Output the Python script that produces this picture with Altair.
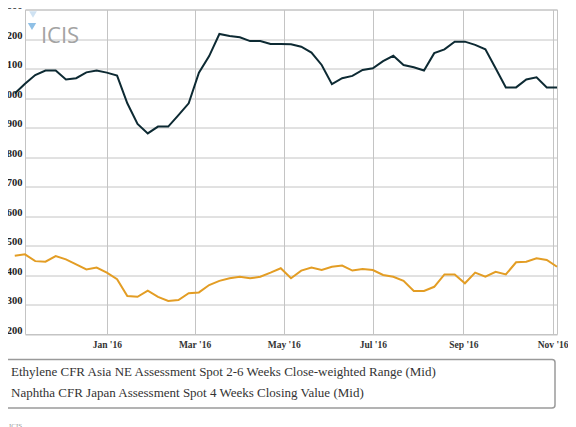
import altair as alt
import pandas as pd

# weekly assessment dates (Fridays)
dates = [(pd.Timestamp("2015-10-30") + pd.Timedelta(weeks=i)).strftime("%Y-%m-%d") for i in range(54)]

ethylene = [1015, 1048, 1078, 1093, 1093, 1063, 1067, 1087, 1093, 1086,
            1076, 982, 912, 880, 903, 903, 942, 982, 1086, 1142,
            1217, 1210, 1206, 1193, 1193, 1183, 1183, 1182, 1174, 1154,
            1112, 1047, 1067, 1075, 1095, 1101, 1125, 1143, 1112, 1104,
            1093, 1152, 1165, 1191, 1191, 1180, 1165, 1101, 1036, 1036,
            1063, 1070, 1036, 1036]

naphtha = [465, 470, 447, 445, 464, 453, 436, 419, 425, 408,
           386, 329, 326, 347, 326, 312, 315, 338, 341, 366,
           380, 389, 394, 389, 394, 408, 423, 389, 415, 425,
           417, 428, 432, 415, 420, 417, 400, 394, 380, 346,
           346, 360, 402, 402, 372, 408, 394, 411, 402, 443,
           445, 457, 451, 428]

series_names = [
    "Ethylene CFR Asia NE Assessment Spot 2-6 Weeks Close-weighted Range (Mid)",
    "Naphtha CFR Japan Assessment Spot 4 Weeks Closing Value (Mid)",
]
series_colors = ["#0d2a33", "#e39d24"]

y_ticks = list(range(200, 1301, 100))
x_tick_months = [(2016, 1), (2016, 3), (2016, 5), (2016, 7), (2016, 9), (2016, 11)]

rows = []
for d, e, n in zip(dates, ethylene, naphtha):
    rows.append({"date": d, "value": e, "series": series_names[0]})
    rows.append({"date": d, "value": n, "series": series_names[1]})
df = pd.DataFrame(rows)

x_enc = alt.X(
    "date:T",
    scale=alt.Scale(
        type="utc",
        domain=[alt.DateTime(year=2015, month=11, date=6, utc=True),
                alt.DateTime(year=2016, month=11, date=4, utc=True)],
    ),
    axis=alt.Axis(
        values=[alt.DateTime(year=y, month=m, date=1, utc=True) for y, m in x_tick_months],
        labelExpr="utcFormat(datum.value, \"%b '%y\")", title=None,
        labelFont="Liberation Serif", labelFontWeight="bold", labelFontSize=9.5,
        labelColor="#333333", labelPadding=5, ticks=False, domain=False,
        grid=True, gridColor="#c4c4c4", labelFlush=False,
    ),
)

y_enc = alt.Y(
    "value:Q",
    scale=alt.Scale(domain=[200, 1300], nice=False, zero=False),
    axis=alt.Axis(
        values=y_ticks, format=",.0f", title=None,
        labelFont="Liberation Serif", labelFontWeight="bold", labelFontSize=10.5,
        labelColor="#222222", labelPadding=3, labelOffset=-4, ticks=False,
        domain=False, grid=True, gridColor="#c4c4c4",
    ),
)

lines = alt.Chart(df).mark_line(strokeWidth=2).encode(
    x=x_enc,
    y=y_enc,
    color=alt.Color(
        "series:N",
        scale=alt.Scale(domain=series_names, range=series_colors),
        legend=alt.Legend(
            orient="none", legendX=-31, legendY=356, direction="vertical",
            title=None, labelFont="Liberation Serif", labelFontSize=13,
            labelColor="#333333", symbolType="stroke", symbolOpacity=0,
            symbolSize=100, labelOffset=4, padding=0, rowPadding=7,
            labelLimit=700,
        ),
    ),
)

one = alt.Data(values=[{}])

legend_box = alt.Chart(one).mark_rect(
    fill="transparent", stroke="#9a9a9a", strokeWidth=1.5, cornerRadius=3
).encode(
    x=alt.value(-25), x2=alt.value(530), y=alt.value(350), y2=alt.value(398.5)
)

watermark = alt.Chart(one).mark_text(
    text="ICIS", font="Open Sans", fontSize=22, color="#a3a3a3",
    align="center", baseline="alphabetic"
).encode(x=alt.value(35), y=alt.value(33.5))

logo_top = alt.Chart(one).mark_point(
    shape="triangle-down", filled=True, color="#cfe2f2", size=60, opacity=1
).encode(x=alt.value(8), y=alt.value(5))

logo_bottom = alt.Chart(one).mark_point(
    shape="triangle-down", filled=True, color="#8fc0e6", size=70, opacity=1
).encode(x=alt.value(7), y=alt.value(17))

source = alt.Chart(one).mark_text(
    text="ICIS", font="Liberation Serif", fontSize=7, color="#999999",
    align="left", baseline="alphabetic"
).encode(x=alt.value(-16), y=alt.value(418))

chart = alt.layer(watermark, logo_top, logo_bottom, lines, legend_box, source).properties(
    width=532,
    height=324.5,
    autosize=alt.AutoSizeParams(type="none"),
    padding={"left": 17, "top": 1.5, "right": 11, "bottom": 95},
).configure_view(stroke="#c4c4c4", strokeWidth=1)

chart.save("out.html", embed_options={"renderer": "svg", "actions": False})
